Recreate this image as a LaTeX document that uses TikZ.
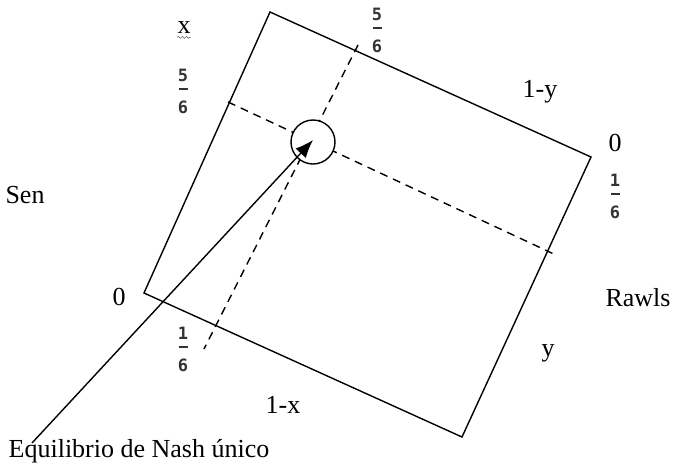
\documentclass[tikz,border=0pt]{standalone}
\usepackage{fontspec}
\setmainfont{Liberation Serif}
\newfontfamily\fracfont{DejaVu Sans Mono}
\usetikzlibrary{arrows.meta,decorations.pathmorphing}
\newcommand{\frc}[2]{#1\\\rule[3.6pt]{4.5pt}{0.8pt}\\#2}

\begin{document}
\begin{tikzpicture}[
      x=0.5pt, y=-0.5pt,
      lbl/.style={inner sep=0pt, font=\fontsize{13}{15}\selectfont},
      frac/.style={inner sep=0pt, align=center, text=black!80, font=\fracfont\bfseries\fontsize{8.5}{8}\selectfont},
      edge/.style={line width=0.7pt},
      guide/.style={line width=0.7pt, dash pattern=on 4pt off 3pt}
    ]
      \useasboundingbox (0,0) rectangle (676,468);

      % corners of the box
      \coordinate (tl) at (270,12);
      \coordinate (tr) at (591,157);
      \coordinate (br) at (462,437);
      \coordinate (bl) at (144,293);
      \draw[edge] (bl) -- (tl) -- (tr) -- (br) -- cycle;

      % dashed guides
      \coordinate (hA) at (228,102);
      \coordinate (hB) at (556,255);
      \coordinate (vA) at (358,45);
      \coordinate (vB) at (204,349);
      \draw[guide] (hA) -- (hB);
      \draw[guide] (vA) -- (vB);

      % equilibrium
      \node[draw, circle, line width=0.7pt, minimum size=22pt, inner sep=0pt, fill=white] (eq) at (313,142) {};
      \coordinate (tail) at (32,443);
      \draw[line width=0.7pt, -{Latex[length=9pt, width=7pt]}] (tail) -- ([yshift=1pt]eq.center);

      % labels
      \node[lbl] (x) at (184,28) {x};
      \draw[black!60, line width=0.3pt, decorate, decoration={snake, amplitude=0.5pt, segment length=2pt}] ([yshift=-1.5pt]x.south west) -- ([yshift=-1.5pt]x.south east);
      \node[frac] (fxa) at (183,91) {\frc{5}{6}};
      \node[frac] (fxb) at (377,30) {\frc{5}{6}};
      \node[lbl] (oneminy) at (540,92) {1-y};
      \node[lbl] (zeroR) at (615,143) {0};
      \node[frac] (fya) at (615,196) {\frc{1}{6}};
      \node[lbl] (sen) at (25,195) {Sen};
      \node[lbl] (zeroL) at (119,297) {0};
      \node[lbl] (rawls) at (638,298) {Rawls};
      \node[frac] (fyb) at (183,349) {\frc{1}{6}};
      \node[lbl] (y) at (548,353) {y};
      \node[lbl] (oneminx) at (283,405) {1-x};
      \node[lbl] (nash) at (139,451) {Equilibrio de Nash único};
    \end{tikzpicture}
\end{document}
